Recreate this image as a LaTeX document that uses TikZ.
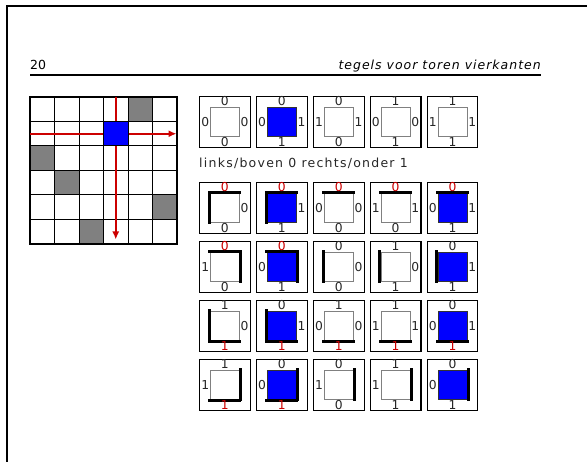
\documentclass[tikz,border=0pt]{standalone}
\usepackage{fontspec}
\setmainfont{DejaVu Sans}
\newfontfamily\ruim[LetterSpace=10]{DejaVu Sans}
\newfontfamily\kopfont[LetterSpace=8]{DejaVu Sans}
\usepackage{xcolor}
\usetikzlibrary{arrows.meta}
\definecolor{rood}{RGB}{204,0,0}
\definecolor{grijs}{RGB}{128,128,128}
\newcommand{\rood}[1]{\textcolor{rood}{#1}}
% thick sides of a small square
\newcommand{\dikt}[1]{\draw[dik] ([yshift=0.7pt]#1.north west) -- ([yshift=0.7pt]#1.north east);}
\newcommand{\dikl}[1]{\draw[dik] ([xshift=-0.7pt]#1.north west) -- ([xshift=-0.7pt]#1.south west);}
\newcommand{\dikr}[1]{\draw[dik] ([xshift=0.7pt]#1.north east) -- ([xshift=0.7pt]#1.south east);}
\newcommand{\dikb}[1]{\draw[dik] ([yshift=-0.7pt]#1.south west) -- ([yshift=-0.7pt]#1.south east);}

\begin{document}
\begin{tikzpicture}[x=1pt, y=-1pt,
  kader/.style={draw, line width=1.1pt, minimum width=50.8pt, minimum height=51pt, inner sep=0pt},
  vak/.style={line width=1pt, minimum size=29pt, inner sep=0pt},
  wit/.style={draw=gray, fill=white},
  blauw/.style={draw=black!80, fill=blue},
  cijfer/.style={font=\fontsize{12.3}{12}\selectfont, text=black!85, inner sep=0.6pt},
  dik/.style={line width=3pt, line cap=rect},
  cel/.style={draw, line width=1pt, minimum size=24.5pt, inner sep=0pt},
  rlijn/.style={rood, line width=1.8pt},
  pijl/.style={rlijn, -{Latex[length=8pt, width=7pt]}},
]
\useasboundingbox (0,0) rectangle (587,462);
% page edge
\draw[line width=2pt] (587,6.5) -- (6.5,6.5) -- (6.5,462);
% header
\node[anchor=base west, inner sep=0pt, font=\fontsize{12.5}{12}\selectfont] (blz) at (30,69.5) {20};
\node[anchor=base east, inner sep=0pt, font=\kopfont\itshape\fontsize{12.5}{12}\selectfont] (titel) at (541,69.5) {tegels voor toren vierkanten};
\draw[line width=2pt] (30,75) -- (541,75);

% board
\foreach \r/\c in {0/4, 2/0, 3/1, 4/5, 5/2}
  \fill[grijs] (30+24.5*\c, 97+24.5*\r) rectangle ++(24.5,24.5);
\foreach \k in {1,...,5} {
  \draw[line width=1pt] (30+24.5*\k,97) -- ++(0,147);
  \draw[line width=1pt] (30,97+24.5*\k) -- ++(147,0);
}
\draw[line width=2pt] (30,97) rectangle (177,244);
\node[cel, fill=blue] (blok) at (115.75,133.75) {};
\coordinate (links) at (30,133.75);
\coordinate (rechts) at (176.5,133.75);
\coordinate (boven) at (115.75,97);
\coordinate (onder) at (115.75,239.5);
\draw[rlijn] (links) -- (blok.west);
\draw[pijl] (blok.east) -- (rechts);
\draw[rlijn] (boven) -- (blok.north);
\draw[pijl] (blok.south) -- (onder);

% the five tiles
\foreach \vul/\bo/\li/\re/\on [count=\i from 0] in
  {wit/0/0/0/0, blauw/0/0/1/1, wit/0/1/1/0, wit/1/0/0/1, wit/1/1/1/1} {
  \node[kader] (a\i) at (224.9+56.9*\i, 121.65) {};
  \node[vak, \vul] (a\i-v) at (a\i) {};
  \node[cijfer, anchor=south] (a\i-t) at (a\i-v.north) {\bo};
  \node[cijfer, anchor=east] (a\i-l) at (a\i-v.west) {\li};
  \node[cijfer, anchor=west] (a\i-r) at (a\i-v.east) {\re};
  \node[cijfer, anchor=north] (a\i-b) at (a\i-v.south) {\on};
}

\node[anchor=base west, inner sep=0pt, text=black!85, font=\ruim\fontsize{12.5}{12}\selectfont] (uitleg) at (199,167.7) {links/boven 0 rechts/onder 1};

% tiles with a tower side
\foreach \vul/\dk/\bo/\li/\re/\on [count=\i from 0] in
  {wit/{t,l}/\rood0//0/0, blauw/{t,l}/\rood0//1/1, wit/t/\rood0/0/0/0, wit/t/\rood0/1/1/0, blauw/t/\rood0/0/1/1,
   wit/{t,r}/\rood0/1//0, blauw/{t,r}/\rood0/0//1, wit/l/0//0/0, wit/l/1//0/1, blauw/l/0//1/1,
   wit/{l,b}/1//0/\rood1, blauw/{l,b}/0//1/\rood1, wit/b/1/0/0/\rood1, wit/b/1/1/1/\rood1, blauw/b/0/0/1/\rood1,
   wit/{r,b}/1/1//\rood1, blauw/{r,b}/0/0//\rood1, wit/r/0/1//0, wit/r/1/1//1, blauw/r/0/0//1} {
  \pgfmathtruncatemacro{\rij}{\i/5}
  \pgfmathtruncatemacro{\kol}{mod(\i,5)}
  \node[kader] (g\i) at (224.9+56.9*\kol, 207.8+59*\rij) {};
  \node[vak, \vul] (g\i-v) at (g\i) {};
  \foreach \z in \dk {\csname dik\z\endcsname{g\i-v}}
  \node[cijfer, anchor=south] (g\i-t) at (g\i-v.north) {\bo};
  \node[cijfer, anchor=east] (g\i-l) at (g\i-v.west) {\li};
  \node[cijfer, anchor=west] (g\i-r) at (g\i-v.east) {\re};
  \node[cijfer, anchor=north] (g\i-b) at (g\i-v.south) {\on};
}
\end{tikzpicture}
\end{document}
